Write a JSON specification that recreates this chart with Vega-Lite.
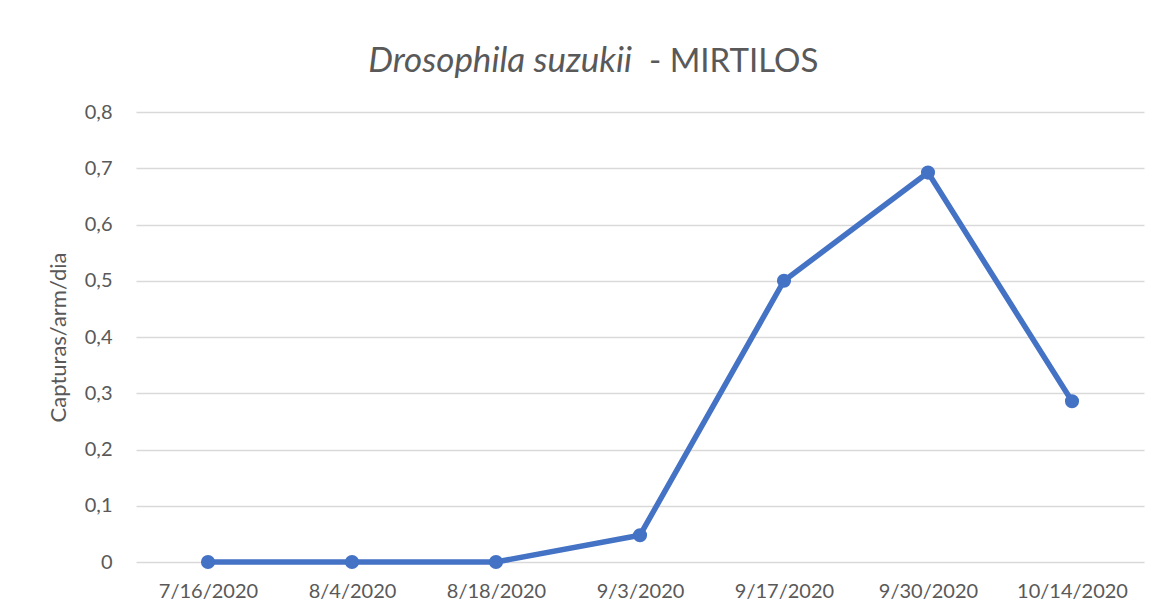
{
  "$schema": "https://vega.github.io/schema/vega-lite/v6.json",
  "padding": {"left": 47, "top": 44, "right": 15, "bottom": 5},
  "background": "white",
  "config": {"font": "Lato", "view": {"stroke": null}},
  "title": {
    "text": "Drosophila suzukii",
    "fontStyle": "italic",
    "fontSize": 35,
    "fontWeight": "normal",
    "color": "#595959",
    "anchor": "start",
    "frame": "bounds",
    "dx": 321,
    "offset": -33
  },
  "vconcat": [
    {
      "width": 1008,
      "height": 450,
      "title": {
        "text": "- MIRTILOS",
        "fontSize": 33,
        "fontWeight": "normal",
        "color": "#595959",
        "anchor": "start",
        "frame": "group",
        "dx": 513,
        "offset": 23
      },
      "data": {
        "values": [
          {"date": "7/16/2020", "value": 0},
          {"date": "8/4/2020", "value": 0},
          {"date": "8/18/2020", "value": 0},
          {"date": "9/3/2020", "value": 0.0476},
          {"date": "9/17/2020", "value": 0.5},
          {"date": "9/30/2020", "value": 0.6923},
          {"date": "10/14/2020", "value": 0.2857}
        ]
      },
      "encoding": {
        "x": {
          "field": "date",
          "type": "ordinal",
          "sort": null,
          "scale": {"type": "point", "padding": 0.5},
          "axis": {
            "title": null,
            "labelAngle": 0,
            "ticks": false,
            "domain": false,
            "labelFontSize": 20,
            "labelColor": "#595959",
            "labelPadding": 19
          }
        },
        "y": {
          "field": "value",
          "type": "quantitative",
          "scale": {"domain": [0, 0.8], "nice": false},
          "axis": {
            "values": [0, 0.1, 0.2, 0.3, 0.4, 0.5, 0.6, 0.7, 0.8],
            "labelExpr": "datum.value == 0 ? '0' : replace(format(datum.value, '.1f'), '.', ',')",
            "grid": true,
            "gridColor": "#d9d9d9",
            "gridWidth": 1.5,
            "domain": false,
            "ticks": false,
            "tickSize": 0,
            "labelFontSize": 20,
            "labelColor": "#595959",
            "labelPadding": 24,
            "title": "Capturas/arm/dia",
            "titleFontSize": 22,
            "titleFontWeight": "normal",
            "titleColor": "#595959",
            "titlePadding": 14
          }
        }
      },
      "layer": [
        {"mark": {"type": "line", "color": "#4472C4", "strokeWidth": 5.5}},
        {"mark": {"type": "point", "filled": true, "size": 200, "color": "#4472C4", "opacity": 1}}
      ]
    }
  ]
}
